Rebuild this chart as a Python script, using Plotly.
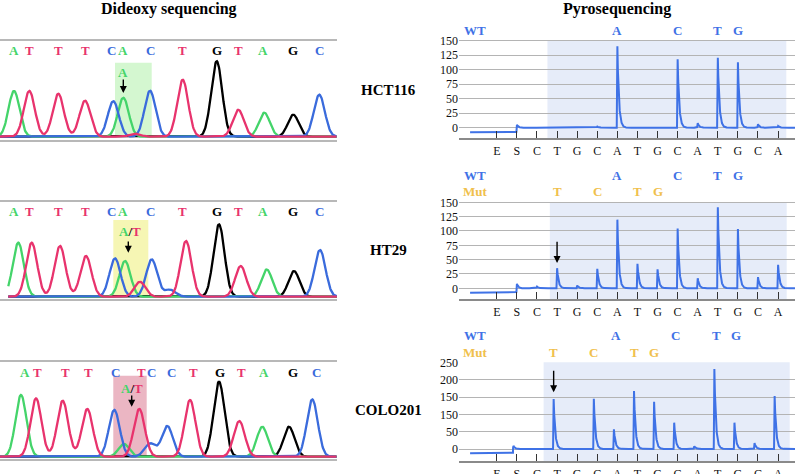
import numpy as np
import plotly.graph_objects as go

W, H = 798, 474

# ---------------- DATA ----------------
samples = ["HCT116", "HT29", "COLO201"]

# Dideoxy (Sanger) base calls printed above each trace and their scan positions
base_calls = [
    ["A", "T", "T", "T", "C", "A", "C", "T", "G", "T", "A", "G", "C"],
    ["A", "T", "T", "T", "C", "A", "C", "T", "G", "T", "A", "G", "C"],
    ["A", "T", "T", "T", "C", "T", "C", "C", "T", "G", "T", "A", "G", "C"],
]
base_call_pos = [
    [14, 29.3, 58.3, 85, 111, 123.3, 150, 182.7, 216.7, 238.3, 263.3, 293.3, 319.3],
    [14, 29.3, 58.3, 85, 111.7, 123.3, 150, 182.7, 216.7, 238.3, 263.3, 293.3, 319.3],
    [25, 37.7, 65, 88.3, 115, 141.7, 151.7, 171, 193.3, 220, 241.7, 264.3, 293.3, 316],
]

# Chromatogram peaks: channel, scan position, signal height
peak_base = [
    ["A", "T", "T", "T", "C", "A", "T", "C", "T", "G", "T", "A", "G", "C"],
    ["A", "T", "T", "T", "C", "A", "T", "C", "C", "T", "G", "T", "A", "G", "C"],
    ["A", "T", "T", "T", "C", "A", "T", "C", "C", "T", "G", "T", "A", "G", "C"],
]
peak_pos = [
    [14, 29.3, 58.3, 85, 113.3, 123.3, 135, 150, 182.7, 216.7, 238.3, 264.3, 293.3, 319.3],
    [18.3, 31.7, 60, 86, 115, 125, 140, 151.7, 170, 186, 219, 240.7, 266.7, 294, 320],
    [21, 36, 62.7, 87.3, 114.3, 124, 139.3, 150, 167.3, 190, 219, 239.3, 262.3, 289, 312.3],
]
peak_height = [
    [45.8, 45.8, 43, 36, 35.5, 39, 3, 46, 57, 75.5, 27, 24, 22, 42],
    [54, 54, 50.7, 40.7, 38.3, 35.7, 15, 37.3, 7, 55.7, 72.3, 30.7, 27.3, 25.7, 46.7],
    [61.7, 58.3, 56, 47.7, 46.7, 12.7, 47.7, 13.3, 30.7, 56.7, 75, 35.7, 30, 30, 57.3],
]
trace_start = [0, 8.3, 0]

# Pyrosequencing dispensation order and peak heights
dispensations = ["E", "S", "C", "T", "G", "C", "A", "T", "G", "C", "A", "T", "G", "C", "A"]
pyro_heights = [
    [0, 5, 0, 0, 0, 2, 144, 0, 1, 121, 8, 124, 116, 6, 3],
    [0, 8, 3, 36, 5, 35, 123, 44, 34, 107, 18, 145, 106, 20, 42],
    [0, 9, 0, 144, 0, 145, 57, 167, 136, 76, 8, 231, 76, 17, 153],
]
pyro_pre_level = [-8, -7.7, -12.4]

wt_letters = ["A", "C", "T", "G"]
wt_index = [7, 10, 12, 13]
mut_letters = ["T", "C", "T", "G"]
mut_index = [4, 6, 8, 9]

pyro_yticks = [
    [0, 25, 50, 75, 100, 125, 150],
    [0, 25, 50, 75, 100, 125, 150],
    [0, 50, 100, 150, 200, 250],
]
pyro_yticktext = [
    ["0", "25", "50", "75", "100", "125", "150"],
    ["0", "25", "50", "75", "100", "125", "150"],
    ["0", "50", "150", "150", "200", "250"],
]

# ---------------- STYLE / LAYOUT ----------------
SERIF = "Liberation Serif, Times New Roman, serif"
base_color = {"A": "#44d46a", "T": "#e8336d", "C": "#3a6bdc", "G": "#000000"}
PYRO_BLUE = "#3f72e6"
MUT_YEL = "#f0c04c"

def xp(px):
    return px / W

def yp(py):
    return 1 - py / H

def label(**kw):
    d = dict(showarrow=False, xanchor="center", yanchor="middle")
    d.update(kw)
    return d

# chromatogram panel geometry (pixels): top line, baseline, bottom
chrom_geo = [(40.7, 136.7, 139.5), (201.7, 296.7, 299.0), (362.3, 456.7, 458.5)]
CHROM_X = (0, 337)
hl_box = [(115, 151.7, 74), (113.3, 148.3, 76.7), (113.3, 146.7, 81)]
hl_color = ["rgba(160,238,150,0.45)", "rgba(240,240,130,0.6)", "rgba(215,110,135,0.5)"]
hl_text_y = [64.7, 65, 68.4]
hl_arrow = [(123.3, 58.7, 43.7), (128.3, 56.7, 44), (131.7, 62.7, 50)]
hl_text_x = [123.3, 129.5, 131.5]

# pyro panel geometry: zero py, px/unit, bottom py, top py
pyro_geo = [(127.7, 0.58, 138.0, 39.5), (288.3, 0.5733, 299.3, 201.0), (449.0, 0.3467, 461.0, 361.5)]
pyro_offset = [0.0, 0.0, -0.17]
shade_x = [(3.52, 15.41), (3.64, 15.43), (3.33, 15.58)]
wt_y = [30, 175, 335]
mut_y = [None, 191.7, 352.3]
E_PX, STEP = 496.8, 20.09
PX0, PX1 = 459, 795
xr = [1 - (E_PX - PX0) / STEP, 15 + (PX1 - (E_PX + 14 * STEP)) / STEP]
pyro_arrow = [None, (84, 44), (230, 163.5)]

fig = go.Figure()
layout = dict(width=W, height=H, margin=dict(l=0, r=0, t=0, b=0, pad=0, autoexpand=False),
              autosize=False, template="none",
              paper_bgcolor="white", plot_bgcolor="rgba(0,0,0,0)", showlegend=False)
annotations = []
shapes = []

sigma = 5.5
for k in range(3):
    ax_id = "" if k == 0 else str(k + 1)
    xa, ya = "x" + ax_id, "y" + ax_id
    top, base, bot = chrom_geo[k]
    ymin = -(bot - base)
    ymax = base - top
    xs = np.arange(trace_start[k], CHROM_X[1], 0.5)
    for ch in ["G", "A", "C", "T"]:
        ys = np.zeros_like(xs)
        for b, p, h in zip(peak_base[k], peak_pos[k], peak_height[k]):
            if b == ch:
                ys += h * np.exp(-((xs - p) ** 2) / (2 * sigma ** 2))
        fig.add_trace(go.Scatter(x=xs, y=ys, mode="lines", xaxis=xa, yaxis=ya,
                                 line=dict(color=base_color[ch], width=2.3), hoverinfo="skip"))
    layout["xaxis" + ax_id] = dict(domain=[xp(CHROM_X[0]), xp(CHROM_X[1])], range=list(CHROM_X),
                                   showgrid=False, zeroline=False, showticklabels=False, ticks="",
                                   showline=True, mirror=True, linecolor="#b8b8b8", linewidth=1.5,
                                   anchor=ya, fixedrange=True, automargin=False)
    layout["yaxis" + ax_id] = dict(domain=[yp(bot), yp(top)], range=[ymin, ymax], showgrid=False,
                                   zeroline=False, showticklabels=False, showline=False, ticks="",
                                   anchor=xa, fixedrange=True, automargin=False)
    for b, p in zip(base_calls[k], base_call_pos[k]):
        annotations.append(label(x=p, y=yp(chrom_geo[k][0] + 10), xref=xa, yref="paper",
                                 text="<b>%s</b>" % b,
                                 font=dict(family=SERIF, size=13, color=base_color[b])))
    x0, x1, hh = hl_box[k]
    shapes.append(dict(type="rect", xref=xa, yref=ya, x0=x0, x1=x1, y0=0, y1=hh,
                       fillcolor=hl_color[k], line=dict(width=0), layer="below"))
    if k == 0:
        txt = "<b>A</b>"
        col = base_color["A"]
    else:
        txt = ("<b><span style='color:%s'>A</span>/<span style='color:%s'>T</span></b>"
               % (base_color["A"], base_color["T"]))
        col = "#000"
    annotations.append(label(x=hl_text_x[k], y=hl_text_y[k], xref=xa, yref=ya, text=txt,
                             font=dict(family=SERIF, size=13, color=col)))
    axx, tail, head = hl_arrow[k]
    annotations.append(dict(x=axx, y=head, ax=axx, ay=tail, xref=xa, yref=ya, axref=xa, ayref=ya,
                            text="", showarrow=True, arrowhead=2, arrowsize=1, arrowwidth=1.4,
                            arrowcolor="#000"))
    annotations.append(label(x=xp(388), y=yp([90, 250, 410][k]), xref="paper", yref="paper",
                             text="<b>%s</b>" % samples[k],
                             font=dict(family=SERIF, size=15, color="#000")))

for k in range(3):
    ax_id = str(k + 4)
    xa, ya = "x" + ax_id, "y" + ax_id
    zero, scale, bot, top = pyro_geo[k]
    ymin = -(bot - zero) / scale
    ymax = (zero - top) / scale
    off = pyro_offset[k]
    xs = np.arange(-0.33, xr[1], 0.004)
    ys = np.where(xs < 2 + off - 0.02, pyro_pre_level[k], 0.0)
    for i, h in enumerate(pyro_heights[k], start=1):
        u = xs - (i + off)
        ys = ys + np.where(u >= 0, h * np.exp(-u / 0.075), 0.0)
        ys = ys + np.where((u >= -0.03) & (u < 0), h * (1 + u / 0.03), 0.0)
    fig.add_trace(go.Scatter(x=xs, y=ys, mode="lines", xaxis=xa, yaxis=ya,
                             line=dict(color=PYRO_BLUE, width=2), hoverinfo="skip"))
    layout["xaxis" + ax_id] = dict(domain=[xp(PX0), xp(PX1)], range=xr, tickmode="array",
                                   tickvals=list(range(1, 16)), ticktext=dispensations,
                                   ticks="inside", ticklen=7, tickwidth=1.3, tickcolor="#333",
                                   showgrid=False, zeroline=False, showline=True, linecolor="#8a8a8a",
                                   linewidth=2.2, tickfont=dict(family=SERIF, size=12, color="#111"),
                                   anchor=ya, fixedrange=True, automargin=False)
    layout["yaxis" + ax_id] = dict(domain=[yp(bot), yp(top)], range=[ymin, ymax], tickmode="array",
                                   tickvals=pyro_yticks[k], ticktext=pyro_yticktext[k],
                                   showgrid=True, gridcolor="#b4b4b4", gridwidth=1.3, zeroline=False,
                                   showline=False, ticks="", tickfont=dict(family=SERIF, size=12, color="#111"),
                                   anchor=xa, fixedrange=True, automargin=False)
    s0, s1 = shade_x[k]
    shapes.append(dict(type="rect", xref=xa, yref=ya, x0=s0, x1=s1, y0=ymin, y1=pyro_yticks[k][-1],
                       fillcolor="#e6ecf9", line=dict(width=0), layer="below"))
    annotations.append(label(x=xp(475), y=yp(wt_y[k]), xref="paper", yref="paper", text="<b>WT</b>",
                             font=dict(family=SERIF, size=13, color=PYRO_BLUE)))
    for L, idx in zip(wt_letters, wt_index):
        annotations.append(label(x=idx + off / 2, y=yp(wt_y[k]), xref=xa, yref="paper",
                                 text="<b>%s</b>" % L,
                                 font=dict(family=SERIF, size=13, color=PYRO_BLUE)))
    if mut_y[k] is not None:
        annotations.append(label(x=xp(475), y=yp(mut_y[k]), xref="paper", yref="paper",
                                 text="<b>Mut</b>",
                                 font=dict(family=SERIF, size=13, color=MUT_YEL)))
        for L, idx in zip(mut_letters, mut_index):
            annotations.append(label(x=idx + off, y=yp(mut_y[k]), xref=xa, yref="paper",
                                     text="<b>%s</b>" % L,
                                     font=dict(family=SERIF, size=13, color=MUT_YEL)))
    if pyro_arrow[k] is not None:
        tail, head = pyro_arrow[k]
        annotations.append(dict(x=4 + off, y=head, ax=4 + off, ay=tail, xref=xa, yref=ya,
                                axref=xa, ayref=ya, text="", showarrow=True, arrowhead=2,
                                arrowsize=1, arrowwidth=1.4, arrowcolor="#000"))

annotations.append(label(x=xp(169), y=yp(9), xref="paper", yref="paper", text="<b>Dideoxy sequencing</b>",
                         font=dict(family=SERIF, size=16, color="#000")))
annotations.append(label(x=xp(617), y=yp(9), xref="paper", yref="paper", text="<b>Pyrosequencing</b>",
                         font=dict(family=SERIF, size=16, color="#000")))

layout["annotations"] = annotations
layout["shapes"] = shapes
fig.update_layout(**layout)
fig.write_html("out.html", post_script="document.body.style.margin='0px';",
               config={"displayModeBar": False})
